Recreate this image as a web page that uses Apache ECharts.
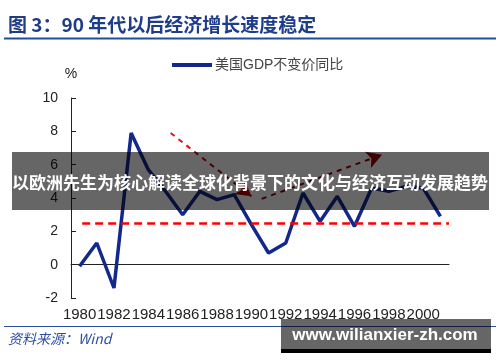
<!DOCTYPE html>
<html><head><meta charset="utf-8">
<script src="https://cdn.jsdelivr.net/npm/echarts@6/dist/echarts.min.js"></script>
<style>html,body{margin:0;padding:0;background:#fff}#c{width:500px;height:362px}</style>
</head><body><div id="c"></div>
<script>
// ---- data ----
const years = ['1980','1981','1982','1983','1984','1985','1986','1987','1988','1989','1990',
               '1991','1992','1993','1994','1995','1996','1997','1998','1999','2000','2001'];
const gdpGrowth = [-0.1, 1.3, -1.4, 7.9, 5.7, 4.4, 3.0, 4.4, 3.9, 4.2, 2.4,
                   0.7, 1.3, 4.3, 2.6, 4.1, 2.3, 4.6, 4.4, 4.7, 4.6, 2.9];
const seriesName = '美国GDP不变价同比';
const yMin = -2, yMax = 10, yStep = 2;
const refLevel = 2.5;            // red dashed reference level
const refSpan = [1980.15, 2001.5];
const downTrend = [[1985.3, 7.9], [1990.0, 4.1]];   // year, value
const upTrend   = [[1990.6, 3.95], [1997.6, 6.6]];
const titleText = '图 3：90 年代以后经济增长速度稳定';
const sourceText = '资料来源：Wind';
const bannerText = '以欧洲先生为核心解读全球化背景下的文化与经济互动发展趋势';
const siteText = 'www.wilianxier-zh.com';

const chart = echarts.init(document.getElementById('c'), null, {renderer: 'canvas'});
const axisColor = '#222';
const font = '"Liberation Sans", Arial, "Noto Sans CJK SC", sans-serif';

chart.setOption({
  animation: false,
  backgroundColor: '#fff',
  textStyle: {fontFamily: font},
  title: {
    text: titleText, left: 8, top: 15, padding: 0,
    textStyle: {fontSize: 19, fontWeight: 'bold', color: '#1f3c88', fontFamily: '"Noto Sans CJK SC", sans-serif'}
  },
  legend: {
    left: 172, top: 58, padding: 0,
    icon: 'rect', itemWidth: 40, itemHeight: 4,
    textStyle: {fontSize: 14, color: '#444', padding: [0,0,0,-2], fontFamily: font},
    data: [seriesName]
  },
  grid: {left: 71, right: 51, top: 98, bottom: 64, containLabel: false},
  xAxis: [{
    type: 'category', data: years, boundaryGap: true,
    axisLine: {onZero: true, lineStyle: {color: axisColor, width: 1}},
    axisTick: {inside: true, length: 5, interval: 0, lineStyle: {color: axisColor}},
    axisLabel: {interval: 1, margin: 9, fontSize: 15, color: '#222'},
    splitLine: {show: false}
  }, {
    type: 'value', min: 1979.5, max: 2001.5, show: false
  }],
  yAxis: {
    type: 'value', min: yMin, max: yMax, interval: yStep,
    name: '%', nameLocation: 'end', nameGap: 17,
    nameTextStyle: {fontSize: 14, color: '#222', align: 'center'},
    axisLine: {show: true, lineStyle: {color: axisColor, width: 1}},
    axisTick: {show: true, inside: true, length: 5, lineStyle: {color: axisColor}},
    axisLabel: {fontSize: 14, color: '#222', margin: 13},
    splitLine: {show: false}
  },
  series: [{
    name: seriesName, type: 'line', data: gdpGrowth,
    symbol: 'none', lineStyle: {color: '#13288c', width: 3.5}, itemStyle: {color: '#13288c'},
    z: 3
  }, {
    type: 'line', xAxisIndex: 1, data: [], silent: true, z: 2,
    markLine: {
      silent: true, animation: false,
      label: {show: false},
      symbol: ['none', 'none'],
      data: [[
        {coord: [refSpan[0], refLevel], lineStyle: {color: '#ff0000', width: 2.5, type: [8, 5]}},
        {coord: [refSpan[1], refLevel]}
      ]]
    }
  }, {
    type: 'line', xAxisIndex: 1, data: [], silent: true, z: 2,
    markLine: {
      silent: true, animation: false,
      label: {show: false},
      symbol: ['none', 'arrow'], symbolSize: [13, 15],
      data: [[
        {coord: downTrend[0],
         lineStyle: {width: 2, type: [5, 5], color: new echarts.graphic.LinearGradient(0, 0, 1, 0, [
           {offset: 0, color: '#ff1010'}, {offset: 0.5, color: '#c00000'}, {offset: 1, color: '#8b0000'}])},
         itemStyle: {color: '#8b0000'}},
        {coord: downTrend[1], itemStyle: {color: '#8b0000'}}
      ], [
        {coord: upTrend[0], lineStyle: {width: 2, type: [5, 5], color: '#9a0000'}, itemStyle: {color: '#8b0000'}},
        {coord: upTrend[1], itemStyle: {color: '#8b0000'}}
      ]]
    }
  }],
  graphic: [
    {type: 'line', shape: {x1: 4, y1: 38.5, x2: 496, y2: 38.5}, style: {stroke: '#1f4e9c', lineWidth: 2}, z: 10},
    {type: 'line', shape: {x1: 4, y1: 326.5, x2: 496, y2: 326.5}, style: {stroke: '#2a4fa0', lineWidth: 1}, z: 10},
    {type: 'text', x: 8, y: 339, style: {text: sourceText, fill: '#2d4ea3',
      font: 'italic 14px "Noto Sans CJK SC", sans-serif', textVerticalAlign: 'middle'}, z: 10},
    {type: 'rect', shape: {x: 12, y: 152, width: 477, height: 58}, style: {fill: 'rgba(0,0,0,0.6)'}, z: 100},
    {type: 'text', x: 250, y: 183, style: {text: bannerText, fill: '#fff',
      font: 'bold 17px "Noto Sans CJK SC", sans-serif', textAlign: 'center', textVerticalAlign: 'middle'}, z: 101},
    {type: 'rect', shape: {x: 281, y: 319, width: 210, height: 30}, style: {fill: 'rgba(0,0,0,0.6)'}, z: 100},
    {type: 'rect', shape: {x: 281, y: 349, width: 210, height: 4}, style: {fill: '#000'}, z: 100},
    {type: 'text', x: 385, y: 335, style: {text: siteText, fill: '#fff',
      font: 'bold 17px "Liberation Sans", Arial, sans-serif', textAlign: 'center', textVerticalAlign: 'middle'}, z: 101}
  ]
});
</script></body></html>
